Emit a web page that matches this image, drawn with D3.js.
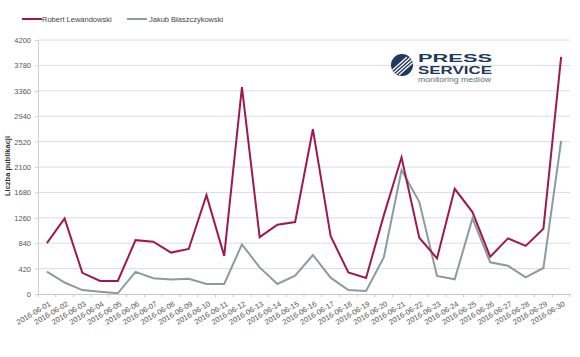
<!DOCTYPE html>
<html><head><meta charset="utf-8">
<script src="https://cdn.jsdelivr.net/npm/d3@7"></script>
<style>body{margin:0;background:#fff}svg{display:block}svg text{font-family:"Liberation Sans",Arial,sans-serif}</style>
</head><body><svg id="c" width="580" height="357"></svg>
<script>
const dates = ["2016-06-01","2016-06-02","2016-06-03","2016-06-04","2016-06-05","2016-06-06","2016-06-07","2016-06-08","2016-06-09","2016-06-10","2016-06-11","2016-06-12","2016-06-13","2016-06-14","2016-06-15","2016-06-16","2016-06-17","2016-06-18","2016-06-19","2016-06-20","2016-06-21","2016-06-22","2016-06-23","2016-06-24","2016-06-25","2016-06-26","2016-06-27","2016-06-28","2016-06-29","2016-06-30"];
const lewandowski = [840,1250,350,215,215,890,865,685,745,1635,630,3420,940,1145,1190,2725,960,355,265,1300,2260,930,590,1740,1355,615,920,795,1080,3920];
const blaszczykowski = [370,190,65,38,12,365,260,238,253,165,165,820,440,165,303,645,270,66,50,605,2050,1525,298,243,1250,525,468,276,430,2530];
const seriesNames = ["Robert Lewandowski","Jakub Błaszczykowski"];
const yTicks = [0,420,840,1260,1680,2100,2520,2940,3360,3780,4200];
const yTitle = "Liczba publikacji";

const colors = ["#9e1a4e","#8b9ba3"];
const FONT = '"Liberation Sans",Arial,sans-serif';
const svg = d3.select("#c");
const m = {l:38, r:570, t:40, b:294};
const x = d3.scaleBand().domain(dates).range([m.l, m.r]);
const y = d3.scaleLinear().domain([0,4200]).range([m.b, m.t]);

// gridlines
svg.append("g").selectAll("line").data(yTicks.filter(d=>d>0)).join("line")
  .attr("x1", m.l).attr("x2", m.r).attr("y1", d=>y(d)).attr("y2", d=>y(d))
  .attr("stroke","#dcdcdc").attr("stroke-width",1);

// y axis
const ya = svg.append("g").attr("transform",`translate(${m.l},0)`)
  .call(d3.axisLeft(y).tickValues(yTicks).tickFormat(d3.format("d")).tickSize(3).tickPadding(4));
ya.attr("font-family",FONT);
ya.select(".domain").attr("stroke","#d0d0d0");
ya.selectAll(".tick line").attr("stroke","#d0d0d0");
ya.selectAll("text").attr("fill","#555").style("font-size","7.5px");

// x axis
const xa = svg.append("g").attr("transform",`translate(0,${m.b})`)
  .call(d3.axisBottom(x).tickSize(0).tickPadding(0));
xa.attr("font-family",FONT);
xa.select(".domain").attr("stroke","#c8c8c8");
xa.selectAll(".tick line").remove();
svg.append("g").selectAll("line").data(dates).join("line")
  .attr("x1", d=>x(d)).attr("x2", d=>x(d)).attr("y1", m.b).attr("y2", m.b+3)
  .attr("stroke","#c8c8c8");
svg.append("line").attr("x1",m.r).attr("x2",m.r).attr("y1",m.b).attr("y2",m.b+3).attr("stroke","#c8c8c8");
xa.selectAll(".tick text")
  .attr("text-anchor","end").attr("fill","#555").style("font-size","7.5px")
  .attr("transform","translate(3,9) rotate(-31)").attr("dy","0.35em");

// y title
svg.append("text").attr("transform","translate(10,166) rotate(-90)")
  .attr("text-anchor","middle").attr("font-weight","bold").style("font-size","7.5px")
  .attr("fill","#333").text(yTitle);

// lines
const line = d3.line().x((d,i)=>x(dates[i])+x.bandwidth()/2).y(d=>y(d));
svg.append("path").datum(blaszczykowski).attr("d",line).attr("fill","none")
  .attr("stroke",colors[1]).attr("stroke-width",2);
svg.append("path").datum(lewandowski).attr("d",line).attr("fill","none")
  .attr("stroke",colors[0]).attr("stroke-width",2);

// legend
const leg = [{x:22,tx:42,name:seriesNames[0],c:colors[0]},{x:127,tx:149,name:seriesNames[1],c:colors[1]}];
leg.forEach(l=>{
  svg.append("line").attr("x1",l.x).attr("x2",l.x+20).attr("y1",19).attr("y2",19)
    .attr("stroke",l.c).attr("stroke-width",2);
  svg.append("text").attr("x",l.tx).attr("y",19).attr("dy","0.35em")
    .style("font-size","7.5px").attr("fill","#444").text(l.name);
});

// logo
const lg = svg.append("g");
lg.append("clipPath").attr("id","cc").append("circle").attr("cx",402).attr("cy",65).attr("r",11);
lg.append("circle").attr("cx",402).attr("cy",65).attr("r",11).attr("fill","#1f3a5c");
const st = lg.append("g").attr("clip-path","url(#cc)");
[-5,-1,3,7].forEach(o=>{
  st.append("line").attr("x1",392+o).attr("y1",75).attr("x2",412+o).attr("y2",57)
    .attr("stroke","#fff").attr("stroke-width",1.3);
});
lg.append("text").attr("x",418).attr("y",62).attr("font-weight","bold").style("font-size","10px")
  .attr("fill","#1f3a5c").attr("textLength",74).attr("lengthAdjust","spacingAndGlyphs").text("PRESS");
lg.append("text").attr("x",418).attr("y",73.5).attr("font-weight","bold").style("font-size","10px")
  .attr("fill","#1f3a5c").attr("textLength",74).attr("lengthAdjust","spacingAndGlyphs").text("SERVICE");
lg.append("text").attr("x",418).attr("y",81.5).style("font-size","7px")
  .attr("fill","#5a6f80").attr("textLength",73).attr("lengthAdjust","spacingAndGlyphs").text("monitoring mediów");
</script></body></html>
